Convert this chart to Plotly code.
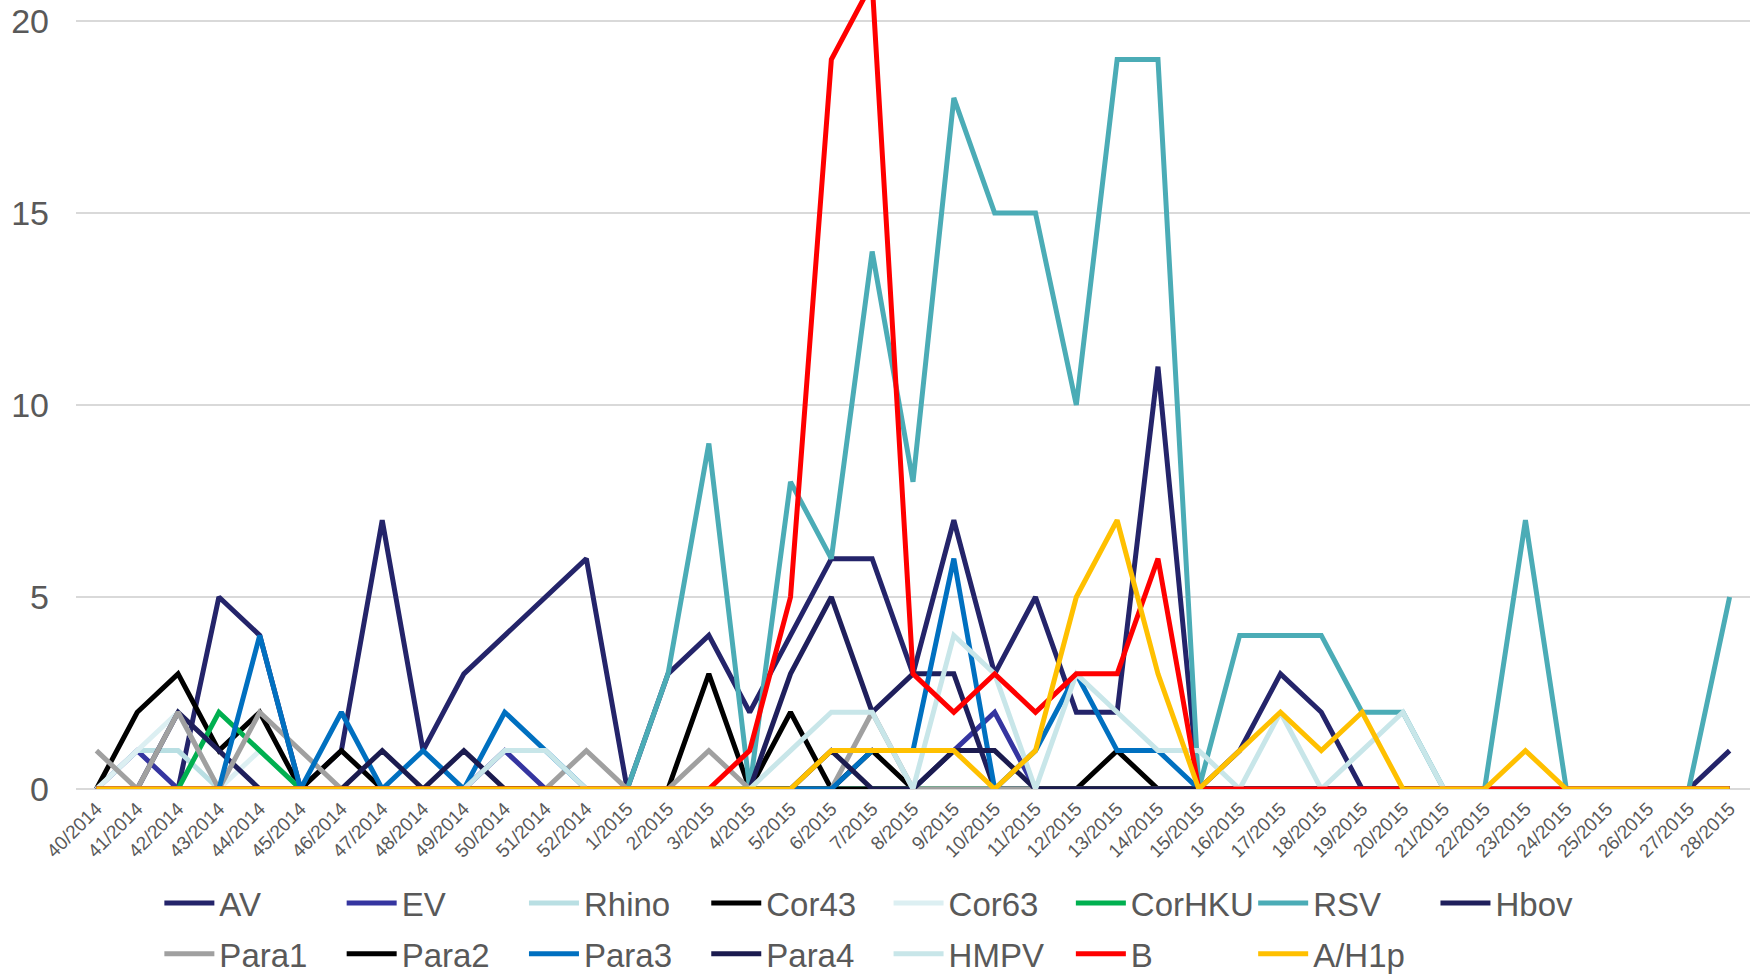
import plotly.graph_objects as go

weeks = ["40/2014", "41/2014", "42/2014", "43/2014", "44/2014", "45/2014", "46/2014",
         "47/2014", "48/2014", "49/2014", "50/2014", "51/2014", "52/2014",
         "1/2015", "2/2015", "3/2015", "4/2015", "5/2015", "6/2015", "7/2015",
         "8/2015", "9/2015", "10/2015", "11/2015", "12/2015", "13/2015", "14/2015",
         "15/2015", "16/2015", "17/2015", "18/2015", "19/2015", "20/2015", "21/2015",
         "22/2015", "23/2015", "24/2015", "25/2015", "26/2015", "27/2015", "28/2015"]

AV =     [0, 0, 0, 5, 4, 0, 1, 7, 1, 3, 4, 5, 6,
          0, 3, 4, 2, 4, 6, 6, 3, 7, 3, 5, 2, 2, 11, 0, 1, 3, 2, 0, 0, 0, 0, 0, 0, 0, 0, 0, 1]
EV =     [0, 1, 0, 0, 0, 0, 0, 0, 0, 0, 1, 0, 0,
          0, 0, 0, 0, 0, 0, 0, 0, 1, 2, 0, 0, 0, 0, 0, 0, 0, 0, 0, 0, 0, 0, 0, 0, 0, 0, 0, 0]
Rhino =  [0, 1, 1, 0, 0, 0, 0, 0, 0, 0, 0, 0, 0,
          0, 0, 0, 0, 0, 0, 0, 0, 0, 0, 0, 0, 0, 0, 0, 0, 0, 0, 0, 0, 0, 0, 0, 0, 0, 0, 0, 0]
Cor43 =  [0, 2, 3, 1, 2, 0, 1, 0, 0, 0, 0, 0, 0,
          0, 0, 3, 0, 2, 0, 1, 0, 0, 0, 0, 0, 1, 0, 0, 0, 0, 0, 0, 0, 0, 0, 0, 0, 0, 0, 0, 0]
Cor63 =  [0, 1, 2, 0, 1, 0, 0, 0, 0, 0, 0, 0, 0,
          0, 0, 0, 0, 0, 0, 0, 0, 0, 0, 0, 0, 0, 0, 0, 0, 0, 0, 0, 0, 0, 0, 0, 0, 0, 0, 0, 0]
CorHKU = [0, 0, 0, 2, 1, 0, 0, 0, 0, 0, 0, 0, 0,
          0, 0, 0, 0, 0, 0, 0, 0, 0, 0, 0, 0, 0, 0, 0, 0, 0, 0, 0, 0, 0, 0, 0, 0, 0, 0, 0, 0]
RSV =    [0, 0, 0, 0, 0, 0, 0, 0, 0, 0, 0, 0, 0,
          0, 3, 9, 0, 8, 6, 14, 8, 18, 15, 15, 10, 19, 19, 0, 4, 4, 4, 2, 2, 0, 0, 7, 0, 0, 0, 0, 5]
Hbov =   [0, 0, 2, 1, 0, 0, 0, 0, 0, 0, 0, 0, 0,
          0, 0, 0, 0, 3, 5, 2, 3, 3, 0, 0, 0, 0, 0, 0, 0, 0, 0, 0, 0, 0, 0, 0, 0, 0, 0, 0, 0]
Para1 =  [1, 0, 2, 0, 2, 1, 0, 0, 0, 0, 0, 0, 1,
          0, 0, 1, 0, 0, 0, 2, 0, 0, 0, 0, 0, 0, 0, 0, 0, 0, 0, 0, 0, 0, 0, 0, 0, 0, 0, 0, 0]
Para2 =  [0, 0, 0, 0, 0, 0, 0, 0, 0, 0, 0, 0, 0,
          0, 0, 0, 0, 0, 0, 0, 0, None, None, 0, 0, 0, 0, 0, 0, 0, 0, 0, 0, 0, 0, 0, 0, 0, 0, 0, 0]
Para3 =  [0, 0, 0, 0, 4, 0, 2, 0, 1, 0, 2, 1, 0,
          0, 0, 0, 0, 0, 0, 1, 1, 6, 0, 1, 3, 1, 1, 0, 0, 0, 0, 0, 0, 0, 0, 0, 0, 0, 0, 0, 0]
Para4 =  [0, 0, 0, 0, 0, 0, 0, 1, 0, 1, 0, 0, 0,
          0, 0, 0, 0, 0, 1, 0, 0, 1, 1, 0, 0, 0, 0, 0, 0, 0, 0, 0, 0, 0, 0, 0, 0, 0, 0, 0, 0]
HMPV =   [0, 0, 0, 0, 0, 0, 0, 0, 0, 0, 1, 1, 0,
          0, 0, 0, 0, 1, 2, 2, 0, 4, 3, 0, 3, 2, 1, 1, 0, 2, 0, 1, 2, 0, 0, 0, 0, 0, 0, 0, 0]
B =      [0, 0, 0, 0, 0, 0, 0, 0, 0, 0, 0, 0, 0,
          0, 0, 0, 1, 5, 19, 21, 3, 2, 3, 2, 3, 3, 6, 0, 0, 0, 0, 0, 0, 0, 0, 0, 0, 0, 0, 0, 0]
AH1p =   [0, 0, 0, 0, 0, 0, 0, 0, 0, 0, 0, 0, 0,
          0, 0, 0, 0, 0, 1, 1, 1, 1, 0, 1, 5, 7, 3, 0, 1, 2, 1, 2, 0, 0, 0, 1, 0, 0, 0, 0, 0]

series = [
    ("AV", AV, "#24246A", "legend"),
    ("EV", EV, "#3535A0", "legend"),
    ("Rhino", Rhino, "#B9DFE3", "legend"),
    ("Cor43", Cor43, "#000000", "legend"),
    ("Cor63", Cor63, "#DCEFF2", "legend"),
    ("CorHKU", CorHKU, "#00B050", "legend"),
    ("RSV", RSV, "#4BACB6", "legend"),
    ("Hbov", Hbov, "#1F1F5C", "legend"),
    ("Para1", Para1, "#A0A0A0", "legend2"),
    ("Para2", Para2, "#000000", "legend2"),
    ("Para3", Para3, "#0070C0", "legend2"),
    ("Para4", Para4, "#1B1B4F", "legend2"),
    ("HMPV", HMPV, "#C8E6E9", "legend2"),
    ("B", B, "#FF0000", "legend2"),
    ("A/H1p", AH1p, "#FFC000", "legend2"),
]

FONT = "Liberation Sans, Arial, sans-serif"
TXT = "#595959"

fig = go.Figure()
for name, vals, color, lg in series:
    fig.add_trace(go.Scatter(
        x=weeks, y=vals, name=name, mode="lines",
        line=dict(color=color, width=5),
        connectgaps=False, legend=lg,
    ))

legend_common = dict(
    orientation="h", xanchor="left", yanchor="middle",
    entrywidth=117.3, entrywidthmode="pixels",
    font=dict(family=FONT, size=33, color=TXT),
    bgcolor="rgba(0,0,0,0)", itemwidth=50,
    tracegroupgap=0,
)

fig.update_layout(
    width=1760, height=974,
    margin=dict(l=76, r=10, t=0, b=185, autoexpand=False),
    paper_bgcolor="white", plot_bgcolor="white",
    font=dict(family=FONT, color=TXT),
    legend=dict(x=0.0498, y=-0.1445, **legend_common),
    legend2=dict(x=0.0498, y=-0.209, **legend_common),
    xaxis=dict(
        type="category", range=[-0.5, 40.5],
        tickmode="array", tickvals=weeks, ticktext=weeks,
        tickangle=-45, tickfont=dict(family=FONT, size=19, color=TXT),
        showgrid=False, showline=False, ticks="", zeroline=False,
        ticklabelstandoff=4, automargin=False,
    ),
    yaxis=dict(
        range=[0, 20.55], tickvals=[0, 5, 10, 15, 20],
        tickfont=dict(family=FONT, size=34, color=TXT),
        showgrid=True, gridcolor="#D9D9D9", gridwidth=1.5,
        zeroline=True, zerolinecolor="#D9D9D9", zerolinewidth=1.5,
        showline=False, ticks="", ticklabelstandoff=26, automargin=False,
    ),
)

fig.write_html("out.html", config={"displayModeBar": False},
               post_script="document.body.style.margin='0';")
